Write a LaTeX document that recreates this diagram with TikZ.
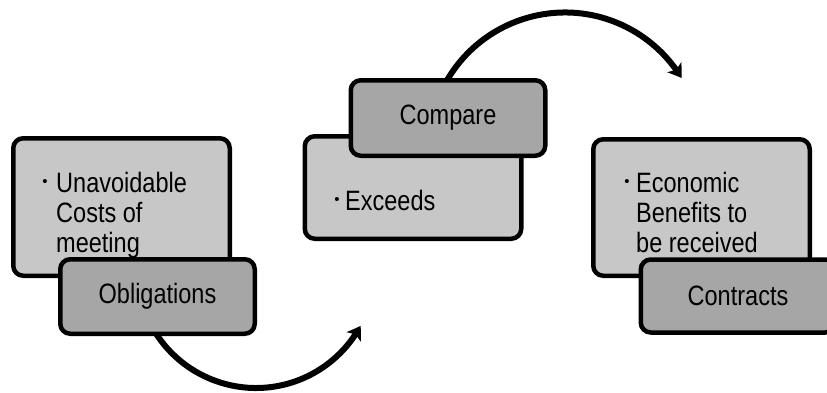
\documentclass[tikz,border=0pt]{standalone}
\usepackage{fontspec}
\setmainfont{Liberation Sans}
\newfontfamily\narrowfont[FakeStretch=0.84]{Liberation Sans}
\usetikzlibrary{arrows.meta,bending}
\definecolor{lightbox}{RGB}{199,199,199}
\definecolor{darkbox}{RGB}{166,166,166}
\tikzset{
  bigbox/.style={draw=black, line width=4.5pt, fill=lightbox, rounded corners=10pt, minimum width=216.5pt, inner sep=0pt},
  smallbox/.style={draw=black, line width=4.5pt, fill=darkbox, rounded corners=10pt, minimum width=194.5pt, minimum height=74.5pt, inner sep=0pt,
     font=\narrowfont\fontsize{28}{30}\selectfont},
  bodytext/.style={inner sep=0pt, align=left, font=\narrowfont\fontsize{28}{30}\selectfont},
  bulletdot/.style={inner sep=0pt, font=\fontsize{15}{15}\selectfont},
  flowarrow/.style={line width=6pt, -{Stealth[length=13pt, width=17pt, inset=3pt, bend]}}
}
\begin{document}
\begin{tikzpicture}[x=1pt, y=1pt]
\useasboundingbox (0,0) rectangle (827,392);
\clip (0,0) rectangle (827,392);
% arrows (drawn first, boxes cover their starts)
\coordinate (c1) at (565,243);
\coordinate (c2) at (256,123);
\draw[flowarrow] ([shift={(153:136.5)}]c1) arc[start angle=153, end angle=31.3, radius=136.5];
\draw[flowarrow] ([shift={(205:119)}]c2) arc[start angle=205, end angle=331.5, radius=119];
% left group
\node[bigbox, minimum height=137.5pt] (b1) at (121.5,185) {};
\node[bulletdot] (d1) at (45,209.3) {•};
\node[bodytext, anchor=base west] (t1) at (56,139.3) {Unavoidable\\Costs of\\meeting};
\node[smallbox] (s1) at (157.5,95.5) {Obligations};
% middle group
\node[bigbox, minimum height=102.5pt] (b2) at (413,204.5) {};
\node[bulletdot] (d2) at (337,191) {•};
\node[bodytext, anchor=base west] (t2) at (345,182) {Exceeds};
\node[smallbox, minimum height=75.5pt] (s2) at (448,274) {Compare};
% right group
\node[bigbox, minimum height=136.5pt] (b3) at (701.5,184.5) {};
\node[bulletdot] (d3) at (627,209.3) {•};
\node[bodytext, anchor=base west] (t3) at (636,139.3) {Economic\\Benefits to\\be received};
\node[smallbox, minimum height=73pt] (s3) at (738,96) {Contracts};
\end{tikzpicture}
\end{document}
